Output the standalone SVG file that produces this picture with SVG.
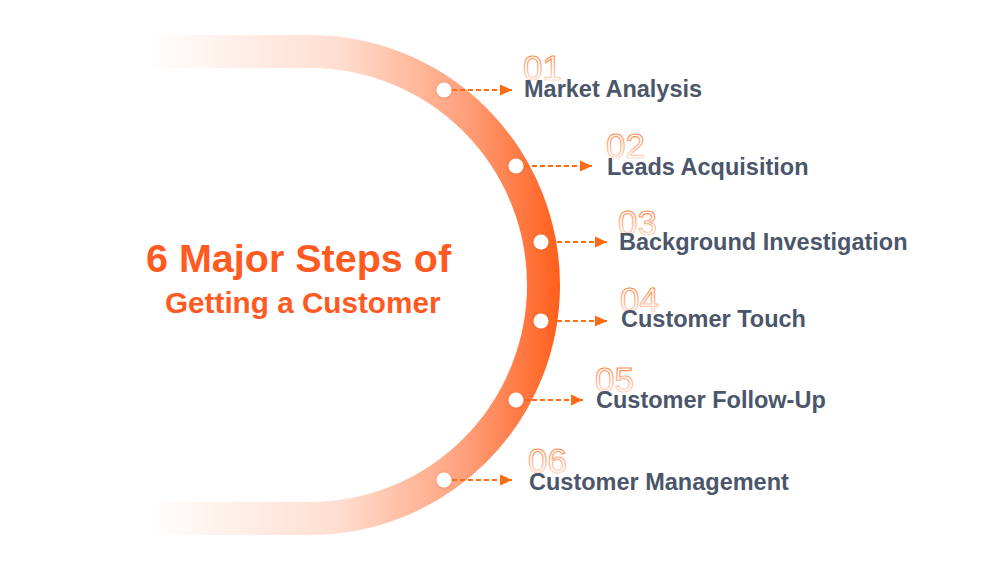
<svg xmlns="http://www.w3.org/2000/svg" width="997" height="566" viewBox="0 0 997 566">
<defs>
<linearGradient id="arcGrad" gradientUnits="userSpaceOnUse" x1="150" y1="0" x2="566" y2="0">
<stop offset="0" stop-color="#FF5A1A" stop-opacity="0"/>
<stop offset="0.45" stop-color="#FF6A2A" stop-opacity="0.22"/>
<stop offset="0.75" stop-color="#FF6226" stop-opacity="0.6"/>
<stop offset="1" stop-color="#FF5A14" stop-opacity="1"/>
</linearGradient>
<linearGradient id="numGrad" x1="0" y1="0" x2="0" y2="1">
<stop offset="0" stop-color="#FF6A1A" stop-opacity="1"/>
<stop offset="0.6" stop-color="#FF9A6A" stop-opacity="0.7"/>
<stop offset="1" stop-color="#FFC2A4" stop-opacity="0.3"/>
</linearGradient>
<marker id="arrow" viewBox="0 0 12 12" refX="12" refY="6" markerWidth="12" markerHeight="12" markerUnits="userSpaceOnUse" orient="auto">
<path d="M0,0.5 L12,6 L0,11.5 Z" fill="#FF6A13"/>
</marker>
<filter id="dotShadow" x="-50%" y="-50%" width="200%" height="200%">
<feDropShadow dx="0" dy="0.5" stdDeviation="1" flood-color="#B03A00" flood-opacity="0.35"/>
</filter>
</defs>
<style>
.label{font-family:"Liberation Sans",Arial,sans-serif;font-weight:bold;font-size:23.5px;fill:#4B566A}
.num{font-family:"Liberation Sans",Arial,sans-serif;font-size:35px;fill:#FFFFFF;stroke:url(#numGrad);stroke-width:1.2}
.title{font-family:"Liberation Sans",Arial,sans-serif;font-weight:bold;fill:#FF5A1F}
.dot{fill:#FFFFFF;filter:url(#dotShadow)}
.conn{stroke:#FF6A13;stroke-width:2;stroke-dasharray:5 3;fill:none;marker-end:url(#arrow)}
</style>
<rect width="997" height="566" fill="#FFFFFF"/>
<g id="arc">
<path d="M150,51.5 H310 A233,233 0 0 1 310,518.5 H150" fill="none" stroke="url(#arcGrad)" stroke-width="33"/>
</g>
<g id="title">
<text class="title" x="146" y="272" font-size="39.5">6 Major Steps of</text>
<text class="title" x="165" y="313" font-size="29.7">Getting a Customer</text>
</g>
<g id="connectors">
<line class="conn" x1="452" y1="90" x2="512" y2="90"/>
<line class="conn" x1="524" y1="166" x2="592" y2="166"/>
<line class="conn" x1="549" y1="242" x2="607" y2="242"/>
<line class="conn" x1="549" y1="321" x2="607" y2="321"/>
<line class="conn" x1="524" y1="400" x2="583" y2="400"/>
<line class="conn" x1="452" y1="480" x2="512" y2="480"/>
</g>
<g id="step1">
<circle class="dot" cx="444" cy="90" r="7.5"/>
<text class="num" x="523" y="80">01</text>
<text class="label" x="524" y="97">Market Analysis</text>
</g>
<g id="step2">
<circle class="dot" cx="516" cy="166" r="7.5"/>
<text class="num" x="606" y="158">02</text>
<text class="label" x="607" y="175">Leads Acquisition</text>
</g>
<g id="step3">
<circle class="dot" cx="541" cy="242" r="7.5"/>
<text class="num" x="618" y="235">03</text>
<text class="label" x="619" y="250">Background Investigation</text>
</g>
<g id="step4">
<circle class="dot" cx="541" cy="321" r="7.5"/>
<text class="num" x="620" y="312">04</text>
<text class="label" x="621" y="327">Customer Touch</text>
</g>
<g id="step5">
<circle class="dot" cx="516" cy="400" r="7.5"/>
<text class="num" x="595" y="392">05</text>
<text class="label" x="596" y="408">Customer Follow-Up</text>
</g>
<g id="step6">
<circle class="dot" cx="444" cy="480" r="7.5"/>
<text class="num" x="528" y="473">06</text>
<text class="label" x="529" y="490">Customer Management</text>
</g>
</svg>
